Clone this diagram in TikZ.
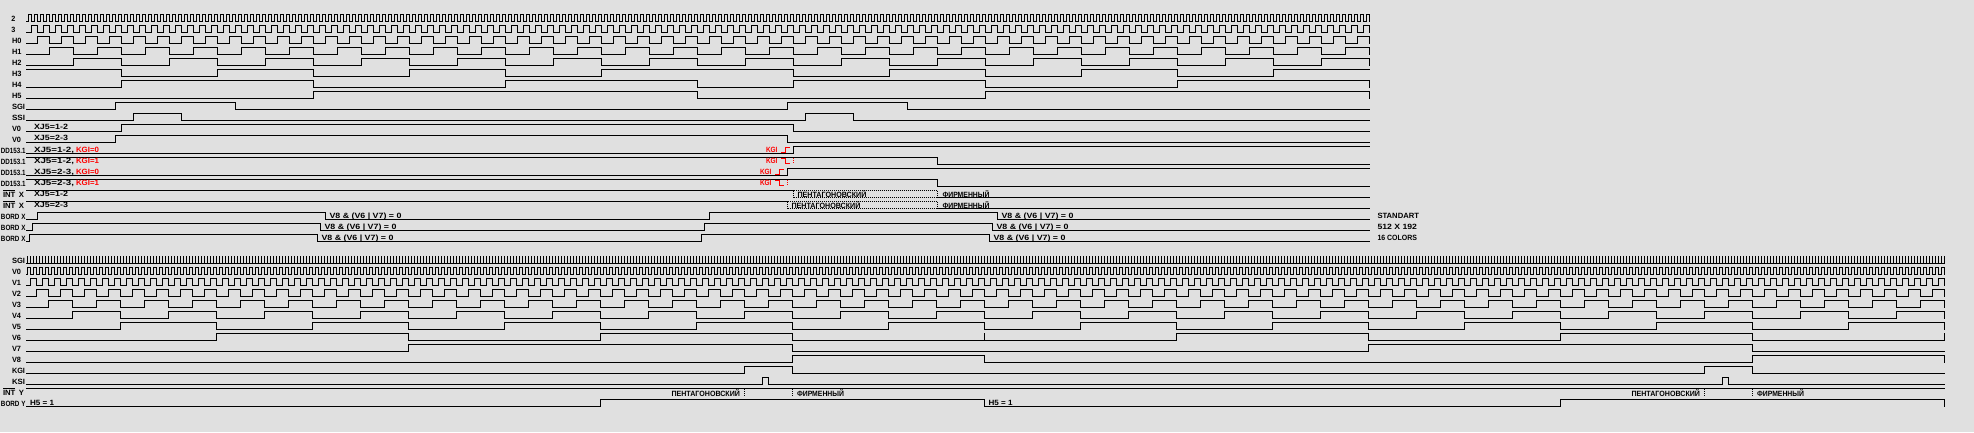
\documentclass[tikz,border=0pt]{standalone}
\usepackage{fontspec}
\usepackage{graphicx}
\setmainfont{Liberation Sans}
\definecolor{bgc}{HTML}{E0E0E0}
\newcount\wn
\newcount\lc
\def\wlev{\ifodd\wn\wh\else\wl\fi}
% #1 y of the high level, #2 start level, #3 toggles, #4 end x (may be empty)
\newcommand\wave[4]{%
  \pgfmathsetmacro\wh{#1}\pgfmathsetmacro\wl{#1+7}%
  \global\wn=#2\relax
  \xdef\wvpath{(26.5,\wlev)}%
  \foreach \wt in {#3}{%
    \xdef\wvpath{\wvpath -- (\wt,\wlev)}%
    \global\advance\wn by 1\relax
    \xdef\wvpath{\wvpath -- (\wt,\wlev)}}%
  \if\relax\detokenize{#4}\relax\else\xdef\wvpath{\wvpath -- (#4,\wlev)}\fi
  \draw[sig] \wvpath;%
}
% #1 colour, #2 x, #3 baseline y, #4 width, #5 text
\newcommand\lab[5][black]{%
  \global\advance\lc by 1\relax
  \node[txt,text=#1] (t\the\lc) at (#2,#3) {\resizebox{#4pt}{\height}{#5}};%
}
\tikzset{
  sig/.style={line width=1pt,line cap=rect,line join=miter,draw=black},
  dots/.style={line width=1pt,line cap=butt,dash pattern=on 1pt off 1pt,draw=black},
  redsig/.style={line width=1pt,line cap=rect,draw=red},
  reddots/.style={line width=1pt,line cap=butt,dash pattern=on 1pt off 1pt,draw=red},
  txt/.style={anchor=base west,inner sep=0pt,outer sep=0pt,font=\fontsize{7.6pt}{8pt}\selectfont\bfseries},
}
\begin{document}
\begin{tikzpicture}[x=1pt,y=-1pt]
\useasboundingbox (0,0) rectangle (1974,432);
\fill[bgc] (0,0) rectangle (1974,432);
% ---------- upper group: clocks
\wave{14.5}{0}{28.5,31.5,...,1369.5}{}
\wave{25.5}{0}{31.5,37.5,...,1369.5}{}
\wave{36.5}{0}{37.5,49.5,...,1369.5}{}
\wave{47.5}{0}{49.5,73.5,...,1369.5}{}
\wave{58.5}{0}{73.5,121.5,...,1369.5}{}
\wave{69.5}{1}{121.5,217.5,313.5,409.5,505.5,601.5,793.5,889.5,985.5,1081.5,1177.5,1273.5}{1369.5}
\wave{80.5}{0}{121.5,313.5,505.5,697.5,793.5,985.5,1177.5,1369.5}{}
\wave{91.5}{0}{313.5,697.5,985.5,1369.5}{}
\wave{102.5}{0}{115.5,235.5,787.5,907.5}{1369.5}
\wave{113.5}{0}{133.5,181.5,805.5,853.5}{1369.5}
\wave{124.5}{0}{121.5,793.5}{1369.5}
\wave{135.5}{0}{115.5,787.5}{1369.5}
\wave{146.5}{0}{793.5}{1369.5}
\wave{157.5}{1}{937.5}{1369.5}
\wave{168.5}{0}{787.5}{1369.5}
\wave{179.5}{1}{937.5}{1369.5}
% INT rows: solid, dotted window, solid
\draw[sig] (26.5,190.5) -- (793.5,190.5);
\draw[sig] (937.5,197.5) -- (1369.5,197.5);
\draw[dots] (793.5,190.5) -- (937.5,190.5) (793.5,190.5) -- (793.5,197.5) (793.5,197.5) -- (937.5,197.5) (937.5,190.5) -- (937.5,197.5);
\draw[sig] (26.5,201.5) -- (787.5,201.5);
\draw[sig] (937.5,208.5) -- (1369.5,208.5);
\draw[dots] (787.5,201.5) -- (937.5,201.5) (787.5,201.5) -- (787.5,208.5) (787.5,208.5) -- (937.5,208.5) (937.5,201.5) -- (937.5,208.5);
\wave{212.5}{0}{37.5,325.5,709.5,997.5}{1369.5}
\wave{223.5}{0}{32.5,320.5,704.5,992.5}{1369.5}
\wave{234.5}{0}{29.5,317.5,701.5,989.5}{1369.5}
% ---------- upper labels
\lab{11.5}{21}{4}{2}
\lab{11.5}{32}{4}{3}
\lab{12}{43}{9.5}{H0}
\lab{12}{54}{9.5}{H1}
\lab{12}{65}{9.5}{H2}
\lab{12}{76}{9.5}{H3}
\lab{12}{87}{9.5}{H4}
\lab{12}{98}{9.5}{H5}
\lab{12}{109}{13}{SGI}
\lab{12}{120}{13}{SSI}
\lab{12}{131}{9}{V0}
\lab{12}{142}{9}{V0}
\lab{1}{153}{24.5}{DD153.1}
\lab{1}{164}{24.5}{DD153.1}
\lab{1}{175}{24.5}{DD153.1}
\lab{1}{186}{24.5}{DD153.1}
\lab{3}{197}{21}{INT\, X}
\lab{3}{208}{21}{INT\, X}
\draw[sig] (3.5,190.5) -- (14.5,190.5);
\draw[sig] (3.5,201.5) -- (14.5,201.5);
\lab{1}{219}{24.5}{BORD X}
\lab{1}{230}{24.5}{BORD X}
\lab{1}{241}{24.5}{BORD X}
% ---------- upper inline text
\lab{34}{129.5}{34}{XJ5=1-2}
\lab{34}{140.5}{34}{XJ5=2-3}
\lab{34}{152}{40}{XJ5=1-2,}
\lab[red]{76}{152}{23}{KGI=0}
\lab{34}{163}{40}{XJ5=1-2,}
\lab[red]{76}{163}{23}{KGI=1}
\lab{34}{174}{40}{XJ5=2-3,}
\lab[red]{76}{174}{23}{KGI=0}
\lab{34}{185}{40}{XJ5=2-3,}
\lab[red]{76}{185}{23}{KGI=1}
\lab{34}{196}{34}{XJ5=1-2}
\lab{34}{207}{34}{XJ5=2-3}
% red markers
\lab[red]{766}{152.5}{11.5}{KGI}
\lab[red]{766}{163.5}{11.5}{KGI}
\lab[red]{760}{174.5}{11.5}{KGI}
\lab[red]{760}{185.5}{11.5}{KGI}
\draw[redsig] (781,152.5) -- (785.5,152.5) -- (785.5,147.5) -- (789.5,147.5);
\draw[redsig] (781,158.5) -- (785.5,158.5) -- (785.5,163.5) -- (789.5,163.5);
\draw[redsig] (775,174.5) -- (779.5,174.5) -- (779.5,169.5) -- (783.5,169.5);
\draw[redsig] (775,180.5) -- (779.5,180.5) -- (779.5,185.5) -- (783.5,185.5);
\draw[reddots] (793.5,158) -- (793.5,163);
\draw[reddots] (787.5,180) -- (787.5,185);
% window text
\lab{797.5}{197}{69}{ПЕНТАГОНОВСКИЙ}
\lab{942.5}{197}{47}{ФИРМЕННЫЙ}
\lab{791.5}{208}{69}{ПЕНТАГОНОВСКИЙ}
\lab{942.5}{208}{47}{ФИРМЕННЫЙ}
% border text
\lab{329.5}{218.5}{72}{V8 \& (V6 | V7) = 0}
\lab{324.5}{229.5}{72}{V8 \& (V6 | V7) = 0}
\lab{321.5}{240.5}{72}{V8 \& (V6 | V7) = 0}
\lab{1001.5}{218.5}{72}{V8 \& (V6 | V7) = 0}
\lab{996.5}{229.5}{72}{V8 \& (V6 | V7) = 0}
\lab{993.5}{240.5}{72}{V8 \& (V6 | V7) = 0}
\lab{1377.5}{218.5}{41.5}{STANDART}
\lab{1377.5}{229.5}{39.5}{512 X 192}
\lab{1377.5}{240.5}{39.5}{16 COLORS}
% ---------- lower group
\draw[sig] (26.5,263.5) -- (1944.5,263.5) foreach \wx in {27.5,30.5,...,1944.5} {(\wx,256.5) -- (\wx,263.5)};
\wave{267.5}{0}{27.5,30.5,...,1944.5}{}
\wave{278.5}{0}{30.5,36.5,...,1944.5}{}
\wave{289.5}{0}{36.5,48.5,...,1944.5}{}
\wave{300.5}{0}{48.5,72.5,...,1944.5}{}
\wave{311.5}{0}{72.5,120.5,...,1944.5}{}
\wave{322.5}{0}{120.5,216.5,...,1944.5}{}
\wave{333.5}{0}{216.5,408.5,600.5,792.5,1176.5,1368.5,1560.5,1752.5,1944.5}{}
\draw[sig] (984.5,333.5) -- (984.5,340.5);
\wave{344.5}{0}{408.5,792.5,1368.5,1752.5}{1944.5}
\wave{355.5}{0}{792.5,984.5,1752.5,1944.5}{}
\wave{366.5}{0}{744.5,792.5,1704.5,1752.5}{1944.5}
\wave{377.5}{0}{762.5,768.5,1722.5,1728.5}{1944.5}
\draw[sig] (26.5,388.5) -- (1944.5,388.5);
\draw[dots] (744.5,389) -- (744.5,396) (792.5,389) -- (792.5,396) (1704.5,389) -- (1704.5,396) (1752.5,389) -- (1752.5,396);
\wave{399.5}{0}{600.5,984.5,1560.5,1944.5}{}
% ---------- lower labels
\lab{12}{263}{13}{SGI}
\lab{12}{274}{9}{V0}
\lab{12}{285}{9}{V1}
\lab{12}{296}{9}{V2}
\lab{12}{307}{9}{V3}
\lab{12}{318}{9}{V4}
\lab{12}{329}{9}{V5}
\lab{12}{340}{9}{V6}
\lab{12}{351}{9}{V7}
\lab{12}{362}{9}{V8}
\lab{12}{373}{13}{KGI}
\lab{12}{384}{13}{KSI}
\lab{3}{395}{21}{INT\, Y}
\draw[sig] (3.5,388.5) -- (14.5,388.5);
\lab{1}{406}{24.5}{BORD Y}
\lab{30}{405.5}{24}{H5 = 1}
\lab{988.5}{405.5}{24}{H5 = 1}
\lab{671.5}{396}{68.5}{ПЕНТАГОНОВСКИЙ}
\lab{797}{396}{47}{ФИРМЕННЫЙ}
\lab{1631.5}{396}{68.5}{ПЕНТАГОНОВСКИЙ}
\lab{1757}{396}{47}{ФИРМЕННЫЙ}
\end{tikzpicture}
\end{document}
